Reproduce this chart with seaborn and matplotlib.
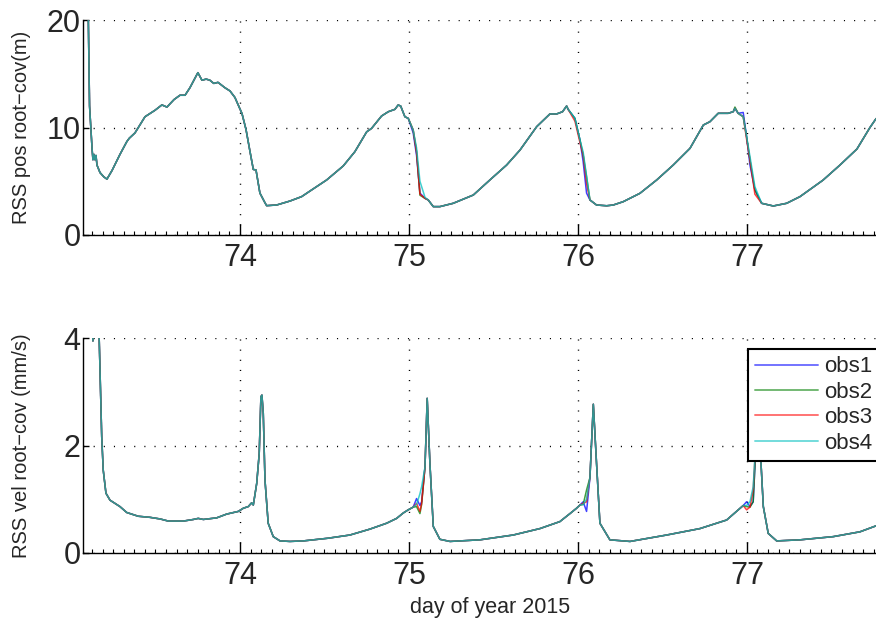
import numpy as np
import pandas as pd
import matplotlib
matplotlib.use("Agg")
import matplotlib.pyplot as plt
from matplotlib.ticker import MultipleLocator, FixedLocator
import seaborn as sns

# ---------------- data ----------------
obs_names = ["obs1", "obs2", "obs3", "obs4"]
obs_colors = ["#0000ff", "#008000", "#ff0000", "#00bfbf"]

pos_days = [73.101, 73.110, 73.125, 73.130, 73.136, 73.142, 73.148, 73.154, 73.172, 73.195,
            73.213, 73.243, 73.290, 73.331, 73.345, 73.379, 73.438, 73.497, 73.538, 73.568,
            73.610, 73.645, 73.675, 73.704, 73.751, 73.775, 73.800, 73.822, 73.845, 73.870,
            73.911, 73.941, 73.970, 74.012, 74.036, 74.059, 74.079, 74.095, 74.118, 74.148,
            74.158, 74.217, 74.296, 74.365, 74.424, 74.513, 74.611, 74.680, 74.750, 74.779,
            74.838, 74.878, 74.917, 74.936, 74.951, 74.976, 74.996, 75.025, 75.045, 75.065,
            75.095, 75.114, 75.144, 75.183, 75.262, 75.381, 75.479, 75.578, 75.657, 75.756,
            75.834, 75.874, 75.909, 75.933, 75.942, 75.982, 76.012, 76.031, 76.051, 76.071,
            76.110, 76.170, 76.209, 76.268, 76.367, 76.466, 76.564, 76.663, 76.742, 76.781,
            76.830, 76.889, 76.919, 76.929, 76.948, 76.978, 76.998, 77.018, 77.047, 77.087,
            77.156, 77.235, 77.314, 77.450, 77.550, 77.651, 77.728, 77.763, 77.800, 77.850,
            77.890]
pos_base = [22.0, 12.0, 8.0, 7.0, 7.5, 7.0, 7.4, 6.5, 5.8, 5.4,
            5.2, 6.0, 7.5, 8.7, 9.0, 9.5, 11.0, 11.6, 12.1, 11.9,
            12.6, 13.0, 13.0, 13.7, 15.1, 14.4, 14.5, 14.4, 14.1, 14.2,
            13.7, 13.4, 12.8, 11.3, 9.8, 7.8, 6.1, 6.05, 3.9, 3.0,
            2.73, 2.79, 3.16, 3.57, 4.19, 5.12, 6.42, 7.75, 9.6, 9.92,
            11.07, 11.47, 11.69, 12.09, 12.0, 11.0, 10.85, 9.77, 7.9, 4.19,
            3.41, 3.26, 2.64, 2.64, 2.95, 3.72, 5.12, 6.51, 7.9, 10.08,
            11.26, 11.26, 11.47, 12.0, 11.69, 10.85, 8.84, 7.44, 5.12, 3.26,
            2.79, 2.72, 2.79, 3.1, 3.88, 5.12, 6.51, 8.06, 10.23, 10.54,
            11.32, 11.32, 11.47, 11.78, 11.32, 11.0, 9.15, 6.98, 4.19, 2.95,
            2.70, 2.95, 3.57, 5.1, 6.5, 8.0, 10.0, 10.8, 11.3, 11.6,
            11.9]
# per-observer deviations (day -> value) around the rapid drops
pos_obs_dev = {
    "obs1": {75.025: 9.5, 75.045: 7.4, 75.065: 3.9, 76.031: 6.8, 76.051: 3.9,
             76.978: 11.4, 77.018: 6.5},
    "obs2": {75.045: 7.8, 75.065: 3.7, 76.051: 5.4, 76.929: 11.9},
    "obs3": {75.045: 7.7, 75.065: 3.8, 75.982: 10.6, 76.012: 8.6, 76.051: 4.8,
             76.998: 8.9, 77.047: 3.8},
    "obs4": {75.045: 8.1, 75.065: 5.0, 75.095: 3.5, 76.031: 7.7, 76.051: 5.5,
             77.018: 7.3, 77.047: 4.5},
}

vel_days = [73.101, 73.125, 73.130, 73.136, 73.160, 73.167, 73.182, 73.191, 73.207, 73.231,
            73.290, 73.330, 73.398, 73.467, 73.527, 73.576, 73.665, 73.724, 73.753, 73.783,
            73.862, 73.921, 73.990, 74.020, 74.049, 74.069, 74.079, 74.099, 74.114, 74.124,
            74.130, 74.138, 74.148, 74.167, 74.197, 74.237, 74.296, 74.375, 74.521, 74.651,
            74.769, 74.868, 74.927, 74.966, 74.996, 75.025, 75.045, 75.065, 75.075, 75.095,
            75.108, 75.124, 75.144, 75.183, 75.243, 75.420, 75.617, 75.775, 75.893, 75.953,
            75.992, 76.012, 76.031, 76.051, 76.071, 76.091, 76.110, 76.130, 76.189, 76.308,
            76.525, 76.722, 76.880, 76.938, 76.978, 76.998, 77.018, 77.037, 77.065, 77.097,
            77.126, 77.176, 77.314, 77.511, 77.669, 77.763, 77.830, 77.890]
vel_base = [4.5, 4.5, 3.95, 4.5, 4.3, 4.0, 2.16, 1.54, 1.11, 0.98,
            0.86, 0.75, 0.68, 0.66, 0.63, 0.59, 0.59, 0.62, 0.64, 0.62,
            0.65, 0.72, 0.77, 0.83, 0.86, 0.93, 0.89, 1.29, 1.85, 2.91,
            2.94, 2.6, 1.36, 0.55, 0.30, 0.22, 0.21, 0.22, 0.27, 0.33,
            0.44, 0.55, 0.64, 0.74, 0.80, 0.85, 0.90, 0.85, 1.00, 1.60,
            2.88, 1.67, 0.49, 0.25, 0.21, 0.24, 0.33, 0.45, 0.58, 0.73,
            0.83, 0.89, 0.90, 0.95, 1.40, 2.77, 1.67, 0.55, 0.24, 0.21,
            0.33, 0.45, 0.61, 0.77, 0.88, 0.88, 0.90, 1.10, 2.75, 0.86,
            0.36, 0.22, 0.24, 0.30, 0.39, 0.50, 0.58, 0.65]
vel_obs_dev = {
    "obs1": {75.045: 1.01, 75.065: 0.88, 75.075: 0.95, 76.031: 0.95, 76.051: 0.77,
             76.998: 0.95, 77.018: 0.86, 77.037: 0.95},
    "obs2": {75.045: 0.86, 75.065: 0.73, 75.075: 0.90, 76.031: 0.90, 76.051: 1.17,
             76.998: 0.86, 77.018: 0.85, 77.037: 0.95},
    "obs3": {75.045: 0.92, 75.065: 0.77, 75.075: 0.92, 76.031: 0.92, 76.051: 0.95,
             76.998: 0.80, 77.018: 0.85, 77.037: 1.17},
    "obs4": {75.045: 0.90, 75.065: 1.10, 75.075: 1.23, 76.031: 0.90, 76.051: 1.00,
             76.998: 0.88, 77.018: 0.95, 77.037: 1.23},
}

x_ticks = [74, 75, 76, 77]
top_yticks = [0, 10, 20]
bot_yticks = [0, 2, 4]


def build_frame(days, base, dev):
    rows = []
    for name in obs_names:
        for d, v in zip(days, base):
            rows.append((d, dev[name].get(d, v), name))
    return pd.DataFrame(rows, columns=["day", "value", "obs"])


pos_df = build_frame(pos_days, pos_base, pos_obs_dev)
vel_df = build_frame(vel_days, vel_base, vel_obs_dev)

# ---------------- style ----------------
sns.set_style("white")
plt.rcParams["font.family"] = ["Liberation Sans", "DejaVu Sans"]
plt.rcParams["axes.unicode_minus"] = True

fig = plt.figure(figsize=(8.76, 6.19), dpi=100)
ax1 = fig.add_axes([83.3 / 876, 1 - 235 / 619, (897 - 83.3) / 876, (235 - 20) / 619])
ax2 = fig.add_axes([83.3 / 876, 1 - 552.7 / 619, (897 - 83.3) / 876, (552.7 - 338.3) / 619])

palette = dict(zip(obs_names, obs_colors))
xlim = (73.073, 77.888)

for ax, df, ylim, yt, ylabel in [
    (ax1, pos_df, (0, 20), top_yticks, "RSS pos root\u2212cov(m)"),
    (ax2, vel_df, (0, 4), bot_yticks, "RSS vel root\u2212cov (mm/s)"),
]:
    sns.lineplot(data=df, x="day", y="value", hue="obs", palette=palette,
                 estimator=None, sort=False, linewidth=1.1, alpha=0.75,
                 legend=(ax is ax2), ax=ax)
    ax.set_xlim(*xlim)
    ax.set_ylim(*ylim)
    ax.xaxis.set_major_locator(FixedLocator(x_ticks))
    ax.xaxis.set_minor_locator(MultipleLocator(1 / 16))
    ax.yaxis.set_major_locator(FixedLocator(yt))
    ax.set_xticklabels([str(t) for t in x_ticks], fontsize=22)
    ax.set_yticklabels([str(t) for t in yt], fontsize=22)
    ax.tick_params(axis="x", which="major", direction="in", length=8, width=1,
                   color="black", pad=6, bottom=True)
    ax.tick_params(axis="x", which="minor", direction="in", length=3, width=0.8,
                   color="black", bottom=True)
    ax.tick_params(axis="y", which="major", direction="in", length=4, width=1,
                   color="black", pad=2, left=True)
    for s in ["top", "right"]:
        ax.spines[s].set_visible(False)
    for s in ["left", "bottom"]:
        ax.spines[s].set_color("black")
        ax.spines[s].set_linewidth(1.0)
    ax.grid(True, which="major", color="black", linestyle=(0, (0.8, 6.5)), linewidth=1.0)
    ax.set_axisbelow(True)
    ax.set_ylabel(ylabel, fontsize=14.5)
    ax.yaxis.set_label_coords(-0.064, 0.5)
    ax.set_xlabel("")

ax2.set_xlabel("day of year 2015", fontsize=15.5)
ax2.xaxis.set_label_coords(0.5, -0.205)

handles, labels = ax2.get_legend_handles_labels()
for h in handles:
    h.set_linewidth(1.4)
    h.set_alpha(0.55)
leg = ax2.legend(handles, labels, loc="upper left", bbox_to_anchor=(0.8165, 0.952),
                 borderaxespad=0, fontsize=16, frameon=True, fancybox=False,
                 handlelength=2.8, handletextpad=0.3, labelspacing=0.2,
                 borderpad=0.35, framealpha=1)
leg.get_frame().set_edgecolor("black")
leg.get_frame().set_linewidth(1.5)

fig.savefig("out.png", dpi=100)
